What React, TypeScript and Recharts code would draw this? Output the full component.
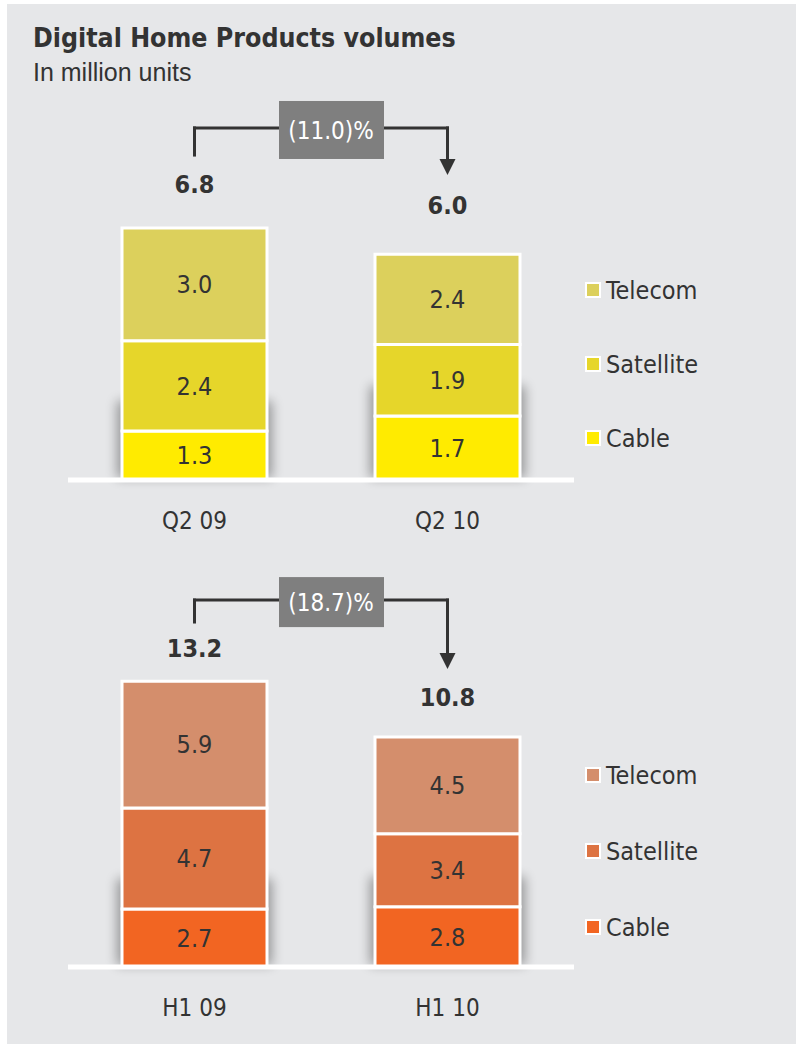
import { BarChart, Bar, XAxis, YAxis, LabelList, ReferenceLine } from 'recharts';

const FONT = "'DejaVu Sans Condensed', 'DejaVu Sans', sans-serif";
const INK = '#333333';

const seriesNames = ['Cable', 'Satellite', 'Telecom'];

// Q2 quarter volumes (million units)
const quarterCategories = ['Q2 09', 'Q2 10'];
const quarterCable = [1.3, 1.7];
const quarterSatellite = [2.4, 1.9];
const quarterTelecom = [3.0, 2.4];
const quarterTotals = ['6.8', '6.0'];
const quarterChange = '(11.0)%';
const quarterColors = ['#ffeb00', '#e6d62a', '#dcd05c'];

// H1 half-year volumes (million units)
const halfCategories = ['H1 09', 'H1 10'];
const halfCable = [2.7, 2.8];
const halfSatellite = [4.7, 3.4];
const halfTelecom = [5.9, 4.5];
const halfTotals = ['13.2', '10.8'];
const halfChange = '(18.7)%';
const halfColors = ['#f26522', '#dd7342', '#d48e6c'];

function ShadowRect(props: any) {
  const { x, y, width, height, fill } = props;
  return (
    <g>
      <defs>
        <filter id="barShadow" x="-50%" y="-50%" width="200%" height="200%">
          <feGaussianBlur stdDeviation="6" />
        </filter>
      </defs>
      <rect x={x - 5} y={y - 30} width={width + 10} height={height + 28} fill="#000" opacity={0.35} filter="url(#barShadow)" />
      <rect x={x} y={y} width={width} height={height} fill={fill} stroke="#fff" strokeWidth={3} />
    </g>
  );
}

function ArrowShape(props: any) {
  const { x1, y1, x2, y2 } = props;
  const head = 16;
  return (
    <g>
      <line x1={x1} y1={y1 - 1.5} x2={x2} y2={y2 - head + 2} stroke={INK} strokeWidth={3} />
      <polygon points={`${x2 - 8},${y2 - head} ${x2 + 8},${y2 - head} ${x2},${y2}`} fill={INK} />
    </g>
  );
}

function ChangeBox(props: any) {
  const { viewBox, text, boxH } = props;
  const cx = viewBox.x + viewBox.width / 2 + 10;
  const cy = viewBox.y + 2;
  return (
    <g>
      <rect x={cx - 52} y={cy - boxH / 2} width={105} height={boxH} fill="#7f7f7f" />
      <text x={cx} y={cy} dy="0.36em" textAnchor="middle" fill="#fff" fontSize={24} fontFamily={FONT}>
        {text}
      </text>
    </g>
  );
}

function makeTotalLabel(offsets: number[]) {
  return (props: any) => {
    const vb = props.viewBox ?? props;
    const x = props.x ?? vb.x;
    const y = props.y ?? vb.y;
    const width = props.width ?? vb.width;
    const off = offsets[props.index ?? 0] ?? offsets[0];
    return (
      <text x={x + width / 2} y={y - off} dy="0.36em" textAnchor="middle" fill={INK} fontSize={25} fontWeight="bold" fontFamily={FONT}>
        {props.value}
      </text>
    );
  };
}

interface PanelProps {
  top: number;
  height: number;
  marginTop: number;
  axisHeight: number;
  yMax: number;
  categories: string[];
  cable: number[];
  satellite: number[];
  telecom: number[];
  totals: string[];
  change: string;
  colors: string[];
  bracketY: number;
  leftEndY: number;
  arrowEndY: number;
  totalOffsets: number[];
  boxH: number;
  legendTop: number;
  legendGap: number;
}

function StackPanel(p: PanelProps) {
  const data = p.categories.map((cat, i) => ({
    cat,
    Cable: p.cable[i],
    Satellite: p.satellite[i],
    Telecom: p.telecom[i],
    total: p.totals[i],
  }));
  const [c0, c1] = p.categories;

  return (
    <>
      <div style={{ position: 'absolute', left: 0, top: p.top }}>
        <BarChart
          width={796}
          height={p.height}
          data={data}
          margin={{ top: p.marginTop, right: 222, bottom: 0, left: 68 }}
        >
          <XAxis
            dataKey="cat"
            height={p.axisHeight}
            axisLine={{ stroke: '#fff', strokeWidth: 5 }}
            tickLine={false}
            tickSize={0}
            tickMargin={32}
            tick={{ fill: INK, fontSize: 24, fontFamily: FONT }}
          />
          <YAxis hide domain={[0, p.yMax]} />
          {seriesNames.map((name, k) => (
            <Bar
              key={name}
              dataKey={name}
              stackId="v"
              fill={p.colors[k]}
              stroke="#fff"
              strokeWidth={3}
              barSize={145}
              isAnimationActive={false}
              shape={k === 0 ? ShadowRect : undefined}
            >
              <LabelList
                dataKey={name}
                position="center"
                fill={INK}
                fontSize={25}
                fontFamily={FONT}
                formatter={(v: any) => Number(v).toFixed(1)}
              />
              {k === 2 && <LabelList dataKey="total" content={makeTotalLabel(p.totalOffsets)} />}
            </Bar>
          ))}
          <ReferenceLine
            segment={[{ x: c0, y: p.leftEndY }, { x: c0, y: p.bracketY }]}
            stroke={INK}
            strokeWidth={3}
            strokeLinecap="square"
            ifOverflow="visible"
          />
          <ReferenceLine
            segment={[{ x: c1, y: p.bracketY }, { x: c1, y: p.arrowEndY }]}
            ifOverflow="visible"
            shape={ArrowShape}
          />
          <ReferenceLine
            segment={[{ x: c0, y: p.bracketY }, { x: c1, y: p.bracketY }]}
            stroke={INK}
            strokeWidth={3}
            strokeLinecap="square"
            ifOverflow="visible"
            label={<ChangeBox text={p.change} boxH={p.boxH} />}
          />
        </BarChart>
      </div>
      {/* legend, top entry first */}
      {[...seriesNames].reverse().map((name, i) => {
        const k = seriesNames.indexOf(name);
        return (
          <div
            key={name}
            style={{
              position: 'absolute',
              left: 585,
              top: p.legendTop + i * p.legendGap - 15,
              height: 30,
              display: 'flex',
              alignItems: 'center',
              fontFamily: FONT,
              fontSize: 25,
              color: INK,
            }}
          >
            <span
              style={{
                display: 'inline-block',
                width: 12,
                height: 12,
                background: p.colors[k],
                border: '2px solid #fff',
                marginRight: 5,
              }}
            />
            {name}
          </div>
        );
      })}
    </>
  );
}

export default function App() {
  return (
    <div style={{ position: 'absolute', left: 0, top: 0, width: 796, height: 1048, background: '#fff' }}>
      <div style={{ position: 'absolute', left: 7, top: 4, width: 789, height: 1040, background: '#e6e7e9' }} />
      <div
        style={{
          position: 'absolute',
          left: 33,
          top: 25,
          fontFamily: FONT,
          fontWeight: 'bold',
          fontSize: 26.5,
          lineHeight: '26px',
          color: INK,
          whiteSpace: 'nowrap',
        }}
      >
        Digital Home Products volumes
      </div>
      <div
        style={{
          position: 'absolute',
          left: 33,
          top: 60,
          fontFamily: "'Liberation Sans', Arial, sans-serif",
          fontSize: 25,
          lineHeight: '25px',
          color: INK,
          whiteSpace: 'nowrap',
        }}
      >
        In million units
      </div>
      <StackPanel
        top={0}
        height={560}
        marginTop={90}
        axisHeight={80}
        yMax={10.37}
        categories={quarterCategories}
        cable={quarterCable}
        satellite={quarterSatellite}
        telecom={quarterTelecom}
        totals={quarterTotals}
        change={quarterChange}
        colors={quarterColors}
        bracketY={9.36}
        leftEndY={8.64}
        arrowEndY={8.11}
        totalOffsets={[44, 49]}
        boxH={58}
        legendTop={290}
        legendGap={74}
      />
      <StackPanel
        top={540}
        height={508}
        marginTop={30}
        axisHeight={81}
        yMax={18.47}
        categories={halfCategories}
        cable={halfCable}
        satellite={halfSatellite}
        telecom={halfTelecom}
        totals={halfTotals}
        change={halfChange}
        colors={halfColors}
        bracketY={17.07}
        leftEndY={16.05}
        arrowEndY={13.86}
        totalOffsets={[33, 40]}
        boxH={50}
        legendTop={775}
        legendGap={76}
      />
    </div>
  );
}
